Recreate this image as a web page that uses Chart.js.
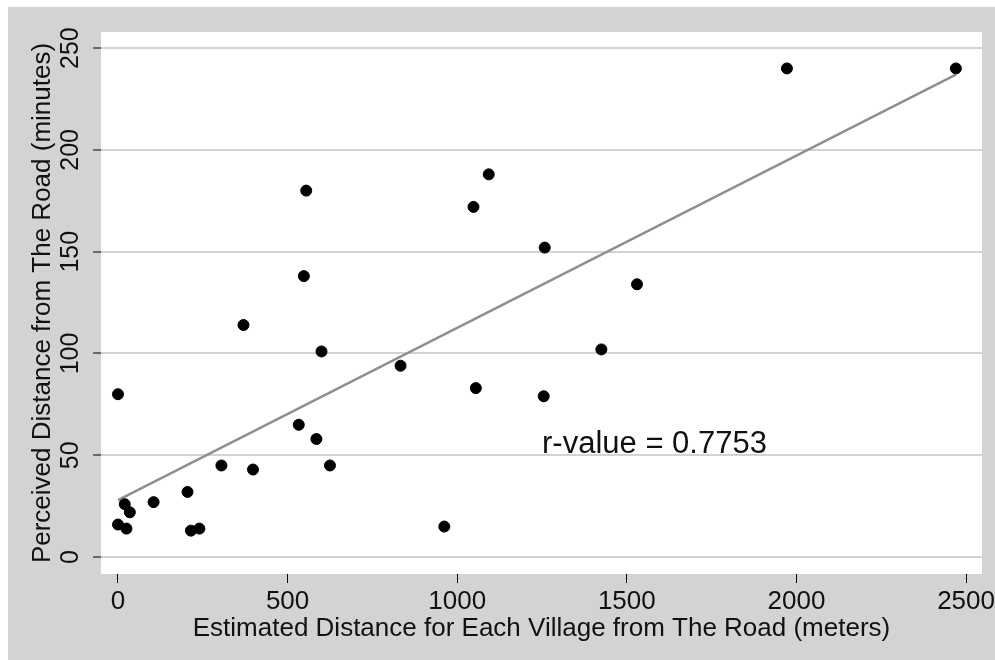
<!DOCTYPE html>
<html>
<head>
<meta charset="utf-8">
<script src="https://cdn.jsdelivr.net/npm/chart.js@4.4.1/dist/chart.umd.min.js"></script>
<style>
    html, body { margin: 0; padding: 0; background: #ffffff; }
    #wrap { width: 995px; height: 660px; }
</style>
</head>
<body>
<div id="wrap"><canvas id="scatterChart"></canvas></div>
<script>
// Data
const distMeters = [0, 0, 20, 25, 35, 105, 205, 215, 240, 305, 370, 398, 533, 548, 555,
    585, 600, 625, 833, 962, 1048, 1055, 1093, 1255, 1258, 1425, 1530, 1972, 2470];
const perceivedMinutes = [80, 16, 26, 14, 22, 27, 32, 13, 14, 45, 114, 43, 65, 138, 180,
    58, 101, 45, 94, 15, 172, 83, 188, 79, 152, 102, 134, 240, 240];

// Fitted line end points
const fitX = [0, 2470];
const fitY = [28, 237];

const xTicks = [0, 500, 1000, 1500, 2000, 2500];
const yTicks = [0, 50, 100, 150, 200, 250];

const xTitle = 'Estimated Distance for Each Village from The Road (meters)';
const yTitle = 'Perceived Distance from The Road (minutes)';
const rText = 'r-value = 0.7753';

const FONT = '"Liberation Sans", Arial, sans-serif';
const GRAY_BG = '#d3d3d3';
const TEXT = '#111111';

// Background: gray panel with white plot area
const backgroundPlugin = {
    id: 'background',
    beforeDraw(chart) {
        const ctx = chart.ctx;
        const a = chart.chartArea;
        ctx.save();
        ctx.fillStyle = GRAY_BG;
        ctx.fillRect(8, 7, chart.width - 8, chart.height - 7);
        ctx.fillStyle = '#ffffff';
        ctx.fillRect(a.left, a.top, a.right - a.left, a.bottom - a.top);
        ctx.restore();
    }
};

// Rotated y tick labels and r-value note
const labelsPlugin = {
    id: 'labels',
    afterDraw(chart) {
        const ctx = chart.ctx;
        const y = chart.scales.y;
        const x = chart.scales.x;
        ctx.save();
        ctx.fillStyle = TEXT;
        ctx.font = '25px ' + FONT;
        ctx.textAlign = 'center';
        ctx.textBaseline = 'middle';
        yTicks.forEach(v => {
            ctx.save();
            ctx.translate(71, y.getPixelForValue(v));
            ctx.rotate(-Math.PI / 2);
            ctx.fillText(String(v), 0, 0);
            ctx.restore();
        });
        ctx.font = '31px ' + FONT;
        ctx.textAlign = 'left';
        ctx.textBaseline = 'alphabetic';
        ctx.fillText(rText, x.getPixelForValue(1250), y.getPixelForValue(51));
        ctx.restore();
    }
};

const ctx = document.getElementById('scatterChart');

new Chart(ctx, {
    type: 'scatter',
    data: {
        datasets: [{
            label: 'Fit',
            type: 'line',
            data: fitX.map((v, i) => ({ x: v, y: fitY[i] })),
            borderColor: '#8f8f8f',
            borderWidth: 2.5,
            pointRadius: 0,
            fill: false,
            order: 2
        }, {
            label: 'Villages',
            data: distMeters.map((v, i) => ({ x: v, y: perceivedMinutes[i] })),
            backgroundColor: '#000000',
            borderColor: '#000000',
            pointRadius: 5.5,
            pointHoverRadius: 5.5,
            order: 1
        }]
    },
    plugins: [backgroundPlugin, labelsPlugin],
    options: {
        responsive: true,
        maintainAspectRatio: false,
        animation: false,
        layout: { padding: { left: 0, top: 32, right: 13, bottom: 0 } },
        plugins: {
            legend: { display: false },
            tooltip: { enabled: false }
        },
        scales: {
            x: {
                type: 'linear',
                min: -50,
                max: 2547,
                afterBuildTicks: scale => { scale.ticks = xTicks.map(v => ({ value: v })); },
                afterFit: scale => {
                    scale.height = 86;
                    scale.paddingLeft = 0;
                    scale.paddingRight = 0;
                },
                border: { display: false },
                grid: {
                    drawOnChartArea: false,
                    tickColor: '#000000',
                    tickLength: 9,
                    tickWidth: 1
                },
                ticks: {
                    color: TEXT,
                    font: { family: FONT, size: 26 },
                    padding: 3,
                    maxRotation: 0,
                    callback: value => String(value)
                },
                title: {
                    display: true,
                    text: xTitle,
                    color: TEXT,
                    font: { family: FONT, size: 26 },
                    padding: { top: 0, bottom: 16 }
                }
            },
            y: {
                type: 'linear',
                min: -8.3,
                max: 257.9,
                afterBuildTicks: scale => { scale.ticks = yTicks.map(v => ({ value: v })); },
                afterFit: scale => {
                    scale.width = 101;
                    scale.paddingTop = 0;
                    scale.paddingBottom = 0;
                },
                border: { display: false },
                grid: {
                    color: '#d3d3d3',
                    lineWidth: 2,
                    tickColor: '#000000',
                    tickLength: 8,
                    tickWidth: 1
                },
                ticks: { display: false },
                title: {
                    display: true,
                    text: yTitle,
                    color: TEXT,
                    font: { family: FONT, size: 26 },
                    padding: { top: 27, bottom: 0 }
                }
            }
        }
    }
});
</script>
</body>
</html>
